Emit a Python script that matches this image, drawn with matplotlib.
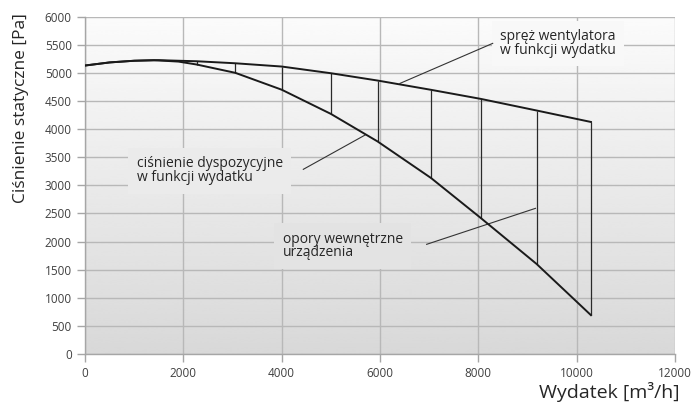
import numpy as np
import matplotlib
matplotlib.use("Agg")
import matplotlib.pyplot as plt

plt.rcParams['font.family'] = ['Open Sans', 'DejaVu Sans']

# --- data ---
fan_x = [0, 500, 1000, 1500, 2270, 3057, 4000, 5000, 5950, 7037, 8047, 9186, 10291]
fan_y = [5130, 5185, 5215, 5225, 5206, 5170, 5112, 4993, 4863, 4698, 4537, 4330, 4126]

avail_x = [0, 500, 1000, 1400, 1900, 2270, 3057, 4000, 5000, 5950, 7037, 8047, 9186, 10291]
avail_y = [5130, 5185, 5215, 5225, 5200, 5148, 5000, 4700, 4270, 3780, 3130, 2420, 1600, 690]

drop_x = [2270, 3057, 4000, 5000, 5950, 7037, 8047, 9186, 10291]
drop_top = [5206, 5170, 5112, 4993, 4863, 4698, 4537, 4330, 4126]
drop_bottom = [5148, 5000, 4700, 4270, 3780, 3130, 2420, 1600, 690]

x_ticks = [0, 2000, 4000, 6000, 8000, 10000, 12000]
y_ticks = [0, 500, 1000, 1500, 2000, 2500, 3000, 3500, 4000, 4500, 5000, 5500, 6000]

labels = ["spręż wentylatora\nw funkcji wydatku",
          "ciśnienie dyspozycyjne\nw funkcji wydatku",
          "opory wewnętrzne\nurządzenia"]
label_pos = [(8440, 5520), (1051, 3259), (4021, 1920)]
leaders = [((6406, 4812), (8292, 5524)),
           ((4440, 3284), (5695, 3893)),
           ((6949, 1950), (9162, 2590))]

xlabel = "Wydatek [m³/h]"
ylabel = "Ciśnienie statyczne [Pa]"

# --- figure ---
fig = plt.figure(figsize=(6.93, 4.05), dpi=100)
ax = fig.add_axes([0.1227, 0.126, 0.974 - 0.1227, 0.959 - 0.126])
ax.set_xlim(0, 12000)
ax.set_ylim(0, 6000)

top_c, bot_c = 0.985, 0.848
def grad_color(y):
    t = y / 6000.0
    v = bot_c + (top_c - bot_c) * t
    return (v, v, v)

grad = np.linspace(top_c, bot_c, 256).reshape(-1, 1)
ax.imshow(grad, cmap='gray', vmin=0, vmax=1, extent=[0, 12000, 0, 6000],
          aspect='auto', zorder=0, interpolation='bicubic')

ax.set_xticks(x_ticks)
ax.set_yticks(y_ticks)
ax.grid(True, color='#b8b8b8', linewidth=1.0, zorder=1)
ax.set_axisbelow(True)
for s in ['top', 'right']:
    ax.spines[s].set_visible(False)
for s in ['left', 'bottom']:
    ax.spines[s].set_color('#a6a6a6')
    ax.spines[s].set_linewidth(1.0)
ax.tick_params(axis='both', colors='#a6a6a6', labelcolor='#404040',
               labelsize=8.5, length=5.5, width=1.0)
ax.tick_params(axis='y', pad=4)
ax.tick_params(axis='x', pad=4)

# label boxes
for txt, (lx, ly) in zip(labels, label_pos):
    ax.text(lx, ly, txt, fontsize=10, color='#262626', ha='left', va='center',
            linespacing=0.9, zorder=3,
            bbox=dict(boxstyle='square,pad=0.6', facecolor=grad_color(ly),
                      edgecolor='none'))

# curves
ax.plot(fan_x, fan_y, color='#1a1a1a', linewidth=1.4, zorder=5,
        solid_joinstyle='round')
ax.plot(avail_x, avail_y, color='#1a1a1a', linewidth=1.4, zorder=5,
        solid_joinstyle='round')
ax.vlines(drop_x, drop_bottom, drop_top, color='#2a2a2a', linewidth=0.9, zorder=4)

for (p0, p1) in leaders:
    ax.plot([p0[0], p1[0]], [p0[1], p1[1]], color='#333333', linewidth=0.8, zorder=4)

fig.text(21 / 693, 1 - 108 / 405, ylabel, rotation=90, fontsize=12.5,
         color='#262626', ha='center', va='center')
fig.text(680 / 693, 1 - 392 / 405, xlabel, fontsize=14, color='#262626',
         ha='right', va='center')

fig.savefig('out.png', dpi=100)
